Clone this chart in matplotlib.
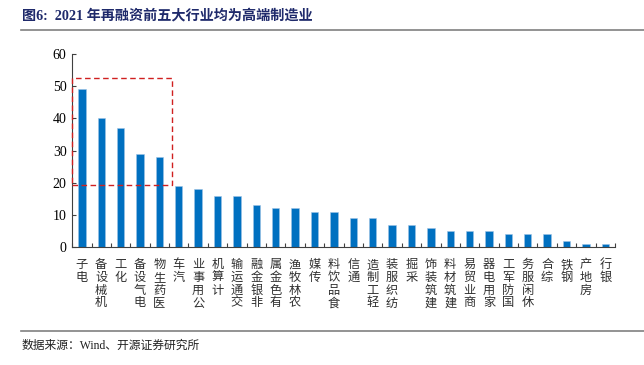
import matplotlib
matplotlib.use("Agg")
import matplotlib.pyplot as plt
from matplotlib.patches import Rectangle
from matplotlib.lines import Line2D

plt.rcParams['font.family'] = ['Liberation Serif', 'Noto Sans CJK SC']

# 行业 & 再融资家数
industries = ['电子', '机械设备', '化工', '电气设备', '医药生物', '汽车', '公用事业', '计算机',
              '交通运输', '非银金融', '有色金属', '农林牧渔', '传媒', '食品饮料', '通信', '轻工制造',
              '纺织服装', '采掘', '建筑装饰', '建筑材料', '商业贸易', '家用电器', '国防军工',
              '休闲服务', '综合', '钢铁', '房地产', '银行']
counts = [49, 40, 37, 29, 28, 19, 18, 16, 16, 13, 12, 12, 11, 11, 9, 9, 7, 7, 6, 5, 5, 5,
          4, 4, 4, 2, 1, 1]
yticks = [0, 10, 20, 30, 40, 50, 60]

fig = plt.figure(figsize=(6.44, 3.65), dpi=100)
ax = fig.add_axes([0.112, 0.323, 0.843, 0.529])

x = range(len(industries))
ax.bar(x, counts, width=0.38, color='#0070C0', edgecolor='#9DC3E6', linewidth=0.4, zorder=2)

ax.set_xlim(-0.5, len(industries) - 0.5)
ax.set_ylim(0, 60)
ax.set_yticks(yticks)
ax.set_yticklabels([str(v) for v in yticks], fontsize=10, family='Liberation Serif')

# x 轴刻度放在类别之间
ax.set_xticks([i - 0.5 for i in range(len(industries) + 1)])
ax.set_xticklabels([])
ax.tick_params(axis='x', direction='in', length=3, color='#404040')
ax.tick_params(axis='y', direction='in', length=3, color='#404040', pad=4)

for s in ['top', 'right']:
    ax.spines[s].set_visible(False)
for s in ['left', 'bottom']:
    ax.spines[s].set_color('#404040')
    ax.spines[s].set_linewidth(0.8)

# 竖排标签：字符从下往上排列，顶端对齐
for i, name in enumerate(industries):
    ax.text(i, -3.5, '\n'.join(reversed(name)), ha='center', va='top',
            fontsize=8.8, linespacing=0.97, family=['Noto Sans CJK SC'],
            color='#303030', clip_on=False)

# 红色虚线框
rect = Rectangle((-0.5, 19.3), 5.15, 33.2, fill=False, edgecolor='#D02020',
                 linestyle=(0, (4, 2.5)), linewidth=1.0, zorder=3, clip_on=False)
ax.add_patch(rect)

# 标题与来源
fig.text(0.034, 0.957, '图6:  2021 年再融资前五大行业均为高端制造业', fontsize=10.2,
         fontweight='bold', color='#1F2A6B', va='center', ha='left',
         family=['Liberation Serif', 'Noto Sans CJK SC'])
fig.add_artist(Line2D([0.032, 1.0], [0.919, 0.919], color='#808080', linewidth=1.2))
fig.add_artist(Line2D([0.032, 1.0], [0.093, 0.093], color='#808080', linewidth=1.2))
fig.text(0.034, 0.052, '数据来源：Wind、开源证券研究所', fontsize=8.5, color='#202020',
         va='center', ha='left', family=['Liberation Serif', 'Noto Sans CJK SC'])

fig.savefig('out.png', dpi=100)
